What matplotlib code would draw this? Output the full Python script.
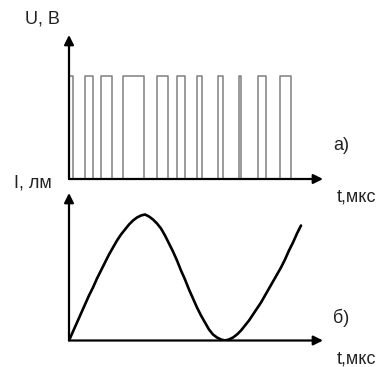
import matplotlib.pyplot as plt

plt.rcParams['font.family'] = ['Liberation Sans', 'DejaVu Sans']

# импульсы напряжения (а): фронты и спады, мкс
rises = [0, 15.5, 31.5, 53.7, 87.5, 107.5, 127.7, 148.5, 169.7, 188.7, 210.5]
falls = [4.3, 23.7, 43.3, 75.2, 99.2, 115.8, 133.3, 153.8, 172.2, 196.8, 221.8]
U_amp = 103

# световой поток (б)
t_light = [0, 4, 8, 12, 16, 20, 24, 28, 32, 36, 40, 44, 48, 52, 56, 60, 64, 68, 72, 76,
           80, 84, 88, 92, 96, 100, 104, 108, 112, 116, 120, 124, 128, 132, 136, 140,
           144, 148, 152, 156, 160, 164, 168, 172, 176, 180, 184, 188, 192, 196, 200,
           204, 208, 212, 216, 220, 224, 228, 232]
I_light = [0, 9, 18, 27, 36, 45, 53, 62, 70, 78, 86, 93, 100, 106, 111, 116, 120, 123, 125, 126,
           124, 121, 117, 112, 105, 97, 89, 80, 70, 61, 51, 42, 33, 25, 18, 11,
           6, 3, 1, 0, 1, 3, 6, 10, 15, 20, 26, 32, 38, 45, 52,
           59, 66, 73, 81, 90, 98, 107, 115]

W, H = 382, 367
fig = plt.figure(figsize=(W / 100, H / 100), dpi=100)
fig.patch.set_facecolor('white')

x0, x1 = 69, 323


def make_axes(y_bottom, y_top, ymax):
    ax = fig.add_axes([x0 / W, (H - y_bottom) / H, (x1 - x0) / W, (y_bottom - y_top) / H])
    ax.set_xlim(0, x1 - x0)
    ax.set_ylim(0, ymax)
    ax.axis('off')
    arrow = dict(arrowstyle='-|>', mutation_scale=14, lw=1.6, color='black',
                 shrinkA=0, shrinkB=0)
    ax.annotate('', xy=(1, 0), xytext=(0, 0), xycoords='axes fraction', arrowprops=arrow)
    ax.annotate('', xy=(0, 1), xytext=(0, 0), xycoords='axes fraction', arrowprops=arrow)
    return ax


# (а) прямоугольные импульсы
ax1 = make_axes(179, 35, 179 - 35)
xs, ys = [], []
for a, b in zip(rises, falls):
    xs += [a, a, b, b]
    ys += [0, U_amp, U_amp, 0]
ax1.plot(xs, ys, color='#808080', lw=1.1, zorder=1)

# (б) кривая
ax2 = make_axes(340.5, 193, 340.5 - 193)
ax2.plot(t_light, I_light, color='black', lw=1.9, zorder=1,
         solid_joinstyle='round', solid_capstyle='round')

fs = 13
fig.text(25 / W, 1 - 24 / H, 'U, B', fontsize=fs, color='#222222')
fig.text(14 / W, 1 - 187 / H, 'I, лм', fontsize=fs, color='#222222')
fig.text(337 / W, 1 - 202 / H, 't,мкс', fontsize=fs, color='#222222')
fig.text(337 / W, 1 - 364 / H, 't,мкс', fontsize=fs, color='#222222')
fig.text(333 / W, 1 - 150 / H, 'а)', fontsize=fs, color='#222222')
fig.text(333 / W, 1 - 323 / H, 'б)', fontsize=fs, color='#222222')

fig.savefig('out.png', dpi=100, facecolor='white')
